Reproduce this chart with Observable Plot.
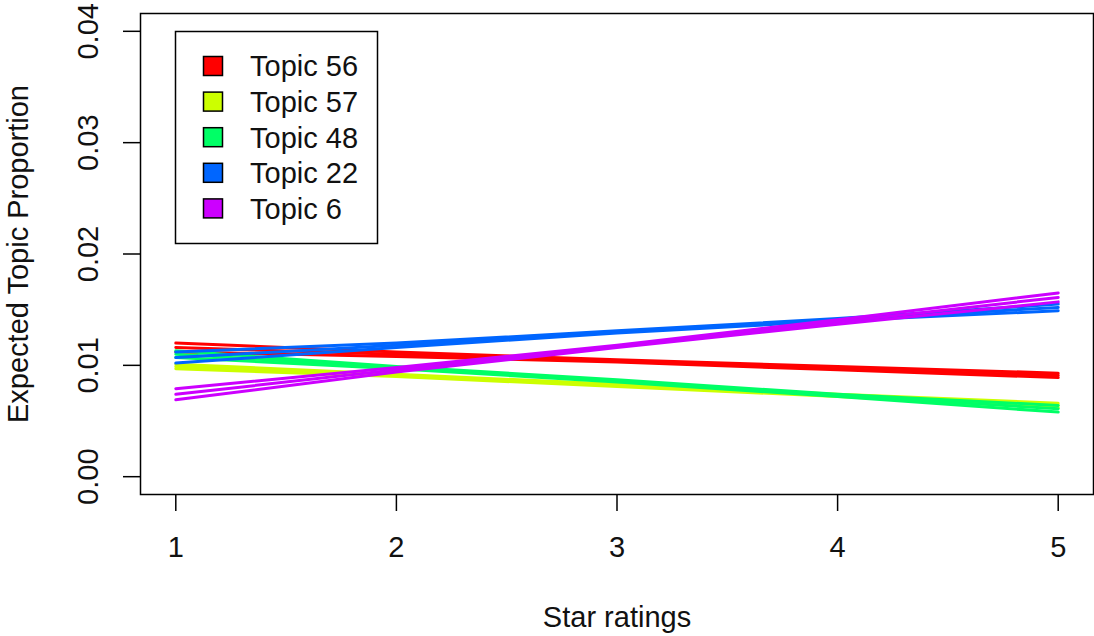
<!DOCTYPE html>
<html>
<head>
<meta charset="utf-8">
<script src="https://cdn.jsdelivr.net/npm/d3@7"></script>
<script src="https://cdn.jsdelivr.net/npm/@observablehq/plot@0.6"></script>
<style>
  html, body { margin: 0; padding: 0; background: #fff; }
  #chart svg { display: block; }
</style>
</head>
<body>
<div id="chart"></div>
<script>
// ---- data ----
const stars = [1, 2, 3, 4, 5];
const xTicks = [1, 2, 3, 4, 5];
const yTicks = [0.00, 0.01, 0.02, 0.03, 0.04];
const topics = ["Topic 56", "Topic 57", "Topic 48", "Topic 22", "Topic 6"];
const topicColors = ["#FF0000", "#CCFF00", "#00FF66", "#0066FF", "#CC00FF"];

const mean56  = [0.0116, 0.0110, 0.0104, 0.0097, 0.0091];
const lower56 = [0.0112, 0.0108, 0.0103, 0.0096, 0.0089];
const upper56 = [0.0120, 0.0112, 0.0105, 0.0099, 0.0093];

const mean57  = [0.0099, 0.0091, 0.0082, 0.0073, 0.0064];
const lower57 = [0.0097, 0.0090, 0.0081, 0.0072, 0.0062];
const upper57 = [0.0101, 0.0092, 0.0083, 0.0074, 0.0066];

const mean48  = [0.0110, 0.0098, 0.0086, 0.0073, 0.0061];
const lower48 = [0.0107, 0.0097, 0.0085, 0.0072, 0.0058];
const upper48 = [0.0113, 0.0099, 0.0087, 0.0074, 0.0064];

const mean22  = [0.0107, 0.0118, 0.0130, 0.0141, 0.0152];
const lower22 = [0.0102, 0.0116, 0.0129, 0.0140, 0.0149];
const upper22 = [0.0112, 0.0120, 0.0131, 0.0142, 0.0155];

const mean6   = [0.0074, 0.0096, 0.0117, 0.0139, 0.0161];
const lower6  = [0.0069, 0.0094, 0.0116, 0.0137, 0.0157];
const upper6  = [0.0079, 0.0098, 0.0118, 0.0141, 0.0165];

// ---- build table ----
const series = [
  {topic: "Topic 56", bands: {lower: lower56, mean: mean56, upper: upper56}},
  {topic: "Topic 57", bands: {lower: lower57, mean: mean57, upper: upper57}},
  {topic: "Topic 48", bands: {lower: lower48, mean: mean48, upper: upper48}},
  {topic: "Topic 22", bands: {lower: lower22, mean: mean22, upper: upper22}},
  {topic: "Topic 6",  bands: {lower: lower6,  mean: mean6,  upper: upper6}}
];
const rowsFor = (s) => Object.entries(s.bands).flatMap(([band, vals]) =>
  stars.map((x, i) => ({topic: s.topic, band, star: x, value: vals[i]})));

const FONT = "Liberation Sans, Arial, sans-serif";
const FS = 29;

const lineMarks = series.map(s => Plot.line(rowsFor(s), {
  x: "star", y: "value", z: "band",
  stroke: "topic", strokeWidth: 3, curve: "linear"
}));

const plot = Plot.plot({
  width: 1094,
  height: 636,
  marginLeft: 140,
  marginRight: 1,
  marginTop: 13,
  marginBottom: 142,
  style: {fontFamily: FONT, fontSize: FS + "px", background: "#fff", color: "#000"},
  x: {domain: [0.84, 5.16], label: null},
  y: {domain: [-0.0016, 0.0416], label: null},
  color: {domain: topics, range: topicColors},
  marks: [
    ...lineMarks,
    Plot.frame({stroke: "#000", strokeWidth: 1.5}),
    Plot.axisX(xTicks, {tickSize: 17, tickPadding: 25, fontSize: FS, tickFormat: d => String(d), label: null, stroke: "#000", strokeWidth: 1.5, fill: "#111"}),
    Plot.axisY(yTicks, {tickSize: 17, fontSize: FS, tickFormat: () => "", label: null, stroke: "#000", strokeWidth: 1.5}),
    Plot.text(yTicks, {y: d => d, text: d => d.toFixed(2), frameAnchor: "left", dx: -52, rotate: -90, fontSize: FS, lineAnchor: "middle", textAnchor: "middle", fill: "#111"}),
    Plot.text(["Expected Topic Proportion"], {text: d => d, frameAnchor: "left", dx: -122, rotate: -90, fontSize: FS, lineAnchor: "middle", textAnchor: "middle", fill: "#111"}),
    Plot.text(["Star ratings"], {text: d => d, frameAnchor: "bottom", dy: 123, fontSize: FS, lineAnchor: "middle", textAnchor: "middle", fill: "#111"})
  ]
});

// ---- legend (inside the plot, top-left) ----
const svg = d3.select(plot);
const lg = svg.append("g").attr("font-family", FONT).attr("font-size", FS).attr("text-anchor", "start");
lg.append("rect").attr("x", 175.5).attr("y", 31.5).attr("width", 202).attr("height", 212)
  .attr("fill", "#fff").attr("stroke", "#000").attr("stroke-width", 1.5);
topics.forEach((t, i) => {
  const cy = 66 + i * 35.6;
  lg.append("rect").attr("x", 203.5).attr("y", cy - 9.5).attr("width", 19).attr("height", 19)
    .attr("fill", topicColors[i]).attr("stroke", "#000").attr("stroke-width", 1.5);
  lg.append("text").attr("x", 250).attr("y", cy).attr("dy", "0.36em").attr("text-anchor", "start").attr("fill", "#111").text(t);
});

document.getElementById("chart").appendChild(plot);
</script>
</body>
</html>
